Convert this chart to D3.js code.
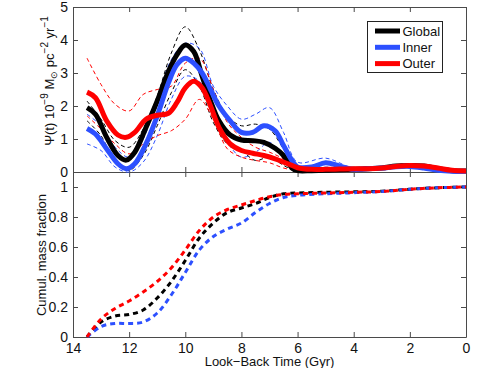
<!DOCTYPE html>
<html><head><meta charset="utf-8">
<script src="https://cdn.jsdelivr.net/npm/d3@7"></script>
<style>body{margin:0;background:#fff}svg{display:block}</style>
</head><body>
<svg id="c" width="491" height="368"></svg>
<script>
// ---- data ----
const sfrTimes = [13.5,13.2,12.8,12.4,12.1,11.8,11.4,11.0,10.6,10.3,10.0,9.7,9.4,9.1,8.8,8.4,8.0,7.6,7.2,6.8,6.5,6.2,6.0,5.5,5.0,4.5,4.0,3.5,3.0,2.5,2.0,1.5,1.0,0.5,0.0];
const globalSFR = [1.95,1.75,1.05,0.5,0.36,0.6,1.35,2.15,3.05,3.55,3.85,3.65,2.9,2.15,1.55,1.12,0.97,0.95,0.9,0.72,0.5,0.12,0.04,0.04,0.05,0.07,0.08,0.1,0.12,0.18,0.2,0.18,0.1,0.04,0.03];
const innerSFR  = [1.32,1.15,0.7,0.25,0.1,0.25,0.85,1.7,2.7,3.25,3.45,3.3,3.0,2.5,2.0,1.55,1.2,1.2,1.4,1.25,0.8,0.35,0.15,0.15,0.28,0.18,0.08,0.1,0.12,0.16,0.17,0.12,0.05,0.02,0.02];
const outerSFR  = [2.42,2.25,1.55,1.12,1.05,1.2,1.6,1.72,1.78,2.1,2.55,2.75,2.55,2.0,1.35,0.85,0.65,0.57,0.5,0.4,0.3,0.2,0.13,0.08,0.08,0.09,0.1,0.1,0.12,0.17,0.2,0.18,0.12,0.05,0.03];

const bandTimes = [13.5,13.0,12.5,12.0,11.5,11.0,10.5,10.0,9.5,9.0,8.5,8.0,7.5,7.0,6.5,6.0,5.0,4.0,3.0,2.0,1.0,0.0];
const globalUpper = [2.15,1.6,0.95,0.75,1.3,2.3,3.6,4.4,3.7,2.5,1.7,1.4,1.45,1.3,0.7,0.1,0.08,0.1,0.15,0.25,0.12,0.04];
const globalLower = [1.55,1.1,0.3,0.05,0.5,1.4,2.4,3.1,2.6,1.5,0.85,0.65,0.35,0.45,0.2,0.01,0.02,0.04,0.08,0.15,0.07,0.02];
const innerUpper  = [1.75,1.4,0.75,0.45,1.0,2.2,3.4,3.9,3.75,2.6,2.0,1.6,1.75,1.95,1.2,0.3,0.42,0.12,0.15,0.22,0.08,0.03];
const innerLower  = [0.85,0.65,0.15,0.0,0.3,1.1,2.2,2.9,2.75,1.7,0.9,0.45,0.6,0.9,0.4,0.02,0.15,0.04,0.08,0.13,0.03,0.01];
const outerUpper  = [3.45,2.65,2.05,1.85,2.35,2.5,2.6,3.3,3.45,2.5,1.5,1.05,0.75,0.6,0.4,0.15,0.12,0.14,0.17,0.25,0.15,0.05];
const outerLower  = [1.7,1.3,0.85,0.55,0.85,1.1,1.25,1.6,2.2,1.6,0.7,0.45,0.35,0.28,0.12,0.05,0.04,0.06,0.08,0.15,0.08,0.02];

const cumTimes = [13.5,13.0,12.5,12.0,11.5,11.0,10.5,10.0,9.5,9.0,8.5,8.0,7.5,7.0,6.5,6.0,5.0,4.0,3.0,2.0,1.0,0.0];
const globalCum = [0,0.1,0.14,0.15,0.18,0.26,0.37,0.51,0.66,0.76,0.83,0.86,0.89,0.93,0.955,0.96,0.965,0.968,0.972,0.985,0.995,1.0];
const innerCum  = [0,0.07,0.09,0.09,0.1,0.16,0.28,0.43,0.58,0.67,0.72,0.76,0.83,0.89,0.93,0.945,0.955,0.962,0.97,0.985,0.995,1.0];
const outerCum  = [0,0.12,0.19,0.24,0.3,0.37,0.46,0.58,0.71,0.8,0.85,0.88,0.91,0.935,0.95,0.955,0.96,0.965,0.97,0.985,0.995,1.0];

const xTicks = [14,12,10,8,6,4,2,0];
const sfrTicks = [0,1,2,3,4,5];
const cumTicks = [0,0.2,0.4,0.6,0.8,1];
const legendLabels = ["Global","Inner","Outer"];
const colors = {Global:"#000000", Inner:"#2d50ff", Outer:"#ff0000"};

// ---- layout ----
const svg = d3.select("#c");
const L = 73, R = 466, T1 = 7, B1 = 172, B2 = 337;
const FONT = "'Liberation Sans', Arial, Helvetica, sans-serif";
const frame = "#4a4a4a";

const x = d3.scaleLinear().domain([14,0]).range([L,R]);
const y1 = d3.scaleLinear().domain([0,5]).range([B1,T1]);
const y2 = d3.scaleLinear().domain([0,1.1]).range([B2,B1]);

function styleAxis(g){
  g.selectAll("path.domain").attr("stroke",frame).attr("stroke-width",1);
  g.selectAll(".tick line").attr("stroke",frame);
  g.selectAll("text").attr("font-family",FONT).attr("font-size",14).attr("fill","#111");
}

// top panel axes
svg.append("g").attr("transform",`translate(${L},0)`)
  .call(d3.axisLeft(y1).tickValues(sfrTicks).tickSize(-5).tickSizeOuter(0).tickPadding(5).tickFormat(d3.format("d"))).call(styleAxis);
svg.append("g").attr("transform",`translate(${R},0)`)
  .call(d3.axisRight(y1).tickValues(sfrTicks).tickSize(-5).tickSizeOuter(0).tickFormat("")).call(styleAxis);
svg.append("g").attr("transform",`translate(0,${T1})`)
  .call(d3.axisTop(x).tickValues(xTicks).tickSize(-5).tickSizeOuter(0).tickFormat("")).call(styleAxis);
svg.append("g").attr("transform",`translate(0,${B1})`)
  .call(d3.axisBottom(x).tickValues(xTicks).tickSize(-5).tickSizeOuter(0).tickFormat("")).call(styleAxis);

// bottom panel axes
svg.append("g").attr("transform",`translate(${L},0)`)
  .call(d3.axisLeft(y2).tickValues(cumTicks).tickSize(-5).tickSizeOuter(0).tickPadding(5).tickFormat(d3.format("~g"))).call(styleAxis);
svg.append("g").attr("transform",`translate(${R},0)`)
  .call(d3.axisRight(y2).tickValues(cumTicks).tickSize(-5).tickSizeOuter(0).tickFormat("")).call(styleAxis);
svg.append("g").attr("transform",`translate(0,${B1})`)
  .call(d3.axisTop(x).tickValues(xTicks).tickSize(-5).tickSizeOuter(0).tickFormat("")).call(styleAxis);
svg.append("g").attr("transform",`translate(0,${B2})`)
  .call(d3.axisBottom(x).tickValues(xTicks).tickSize(-5).tickSizeOuter(0).tickPadding(6)).call(styleAxis);

// ---- curves ----
function mkLine(ys, times, ysc){
  return d3.line().x((d,i)=>x(times[i])).y(d=>ysc(d)).curve(d3.curveCatmullRom.alpha(0.5))(ys);
}
const bands = [
  ["Global",globalUpper],["Global",globalLower],
  ["Inner",innerUpper],["Inner",innerLower],
  ["Outer",outerUpper],["Outer",outerLower]
];
bands.forEach(([k,arr])=>{
  svg.append("path").attr("d",mkLine(arr,bandTimes,y1)).attr("fill","none")
    .attr("stroke",colors[k]).attr("stroke-width",1).attr("stroke-dasharray","4,3");
});
[["Global",globalSFR],["Inner",innerSFR],["Outer",outerSFR]].forEach(([k,arr])=>{
  svg.append("path").attr("d",mkLine(arr,sfrTimes,y1)).attr("fill","none")
    .attr("stroke",colors[k]).attr("stroke-width",5).attr("stroke-linejoin","round");
});
[["Global",globalCum],["Inner",innerCum],["Outer",outerCum]].forEach(([k,arr])=>{
  svg.append("path").attr("d",mkLine(arr,cumTimes,y2)).attr("fill","none")
    .attr("stroke",colors[k]).attr("stroke-width",3).attr("stroke-dasharray","5,4");
});

// ---- legend ----
const lg = svg.append("g");
lg.append("rect").attr("x",367.5).attr("y",21.5).attr("width",75).attr("height",51)
  .attr("fill","#fff").attr("stroke","#222").attr("stroke-width",1);
legendLabels.forEach((k,i)=>{
  const yy = 31 + i*16.3;
  lg.append("line").attr("x1",375).attr("x2",400).attr("y1",yy).attr("y2",yy)
    .attr("stroke",colors[k]).attr("stroke-width",5);
  lg.append("text").attr("x",402.5).attr("y",yy+4.7).text(k)
    .attr("font-family",FONT).attr("font-size",13).attr("fill","#111");
});

// ---- axis labels ----
svg.append("text").attr("x",(L+R)/2).attr("y",366).attr("text-anchor","middle")
  .attr("font-family",FONT).attr("font-size",13).attr("fill","#111").text("Look\u2212Back Time (Gyr)");

const yl = svg.append("text").attr("transform","translate(54,81) rotate(-90)").attr("text-anchor","middle")
  .attr("font-family",FONT).attr("font-size",13).attr("fill","#111");
yl.append("tspan").text("\u03A8(t) 10");
yl.append("tspan").attr("dy",-6).attr("font-size",10).text("\u22129");
yl.append("tspan").attr("dy",6).text(" M");
yl.append("tspan").attr("dy",3).attr("font-size",9).text("\u2299");
yl.append("tspan").attr("dy",-3).text(" pc");
yl.append("tspan").attr("dy",-6).attr("font-size",10).text("\u22122");
yl.append("tspan").attr("dy",6).text(" yr");
yl.append("tspan").attr("dy",-6).attr("font-size",10).text("\u22121");

svg.append("text").attr("transform","translate(46,255) rotate(-90)").attr("text-anchor","middle")
  .attr("font-family",FONT).attr("font-size",13).attr("fill","#111").text("Cumul. mass fraction");
</script>
</body></html>
